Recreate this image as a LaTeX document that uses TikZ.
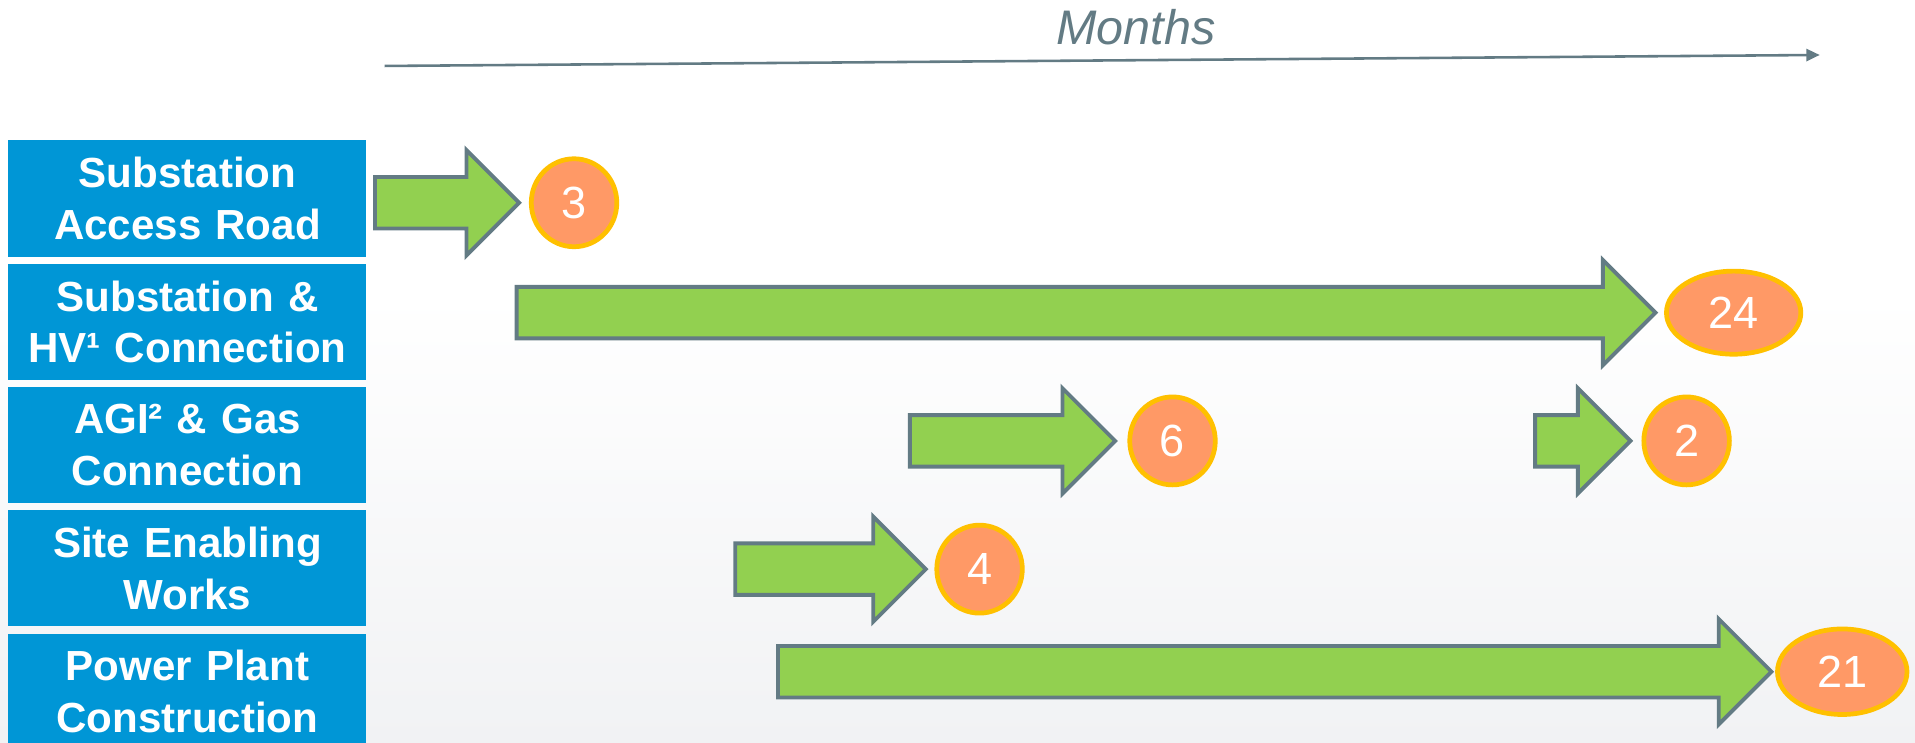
\documentclass[tikz,border=0pt]{standalone}
\usepackage{fontspec}
\setmainfont{Liberation Sans}
\usetikzlibrary{positioning,shapes.arrows,shapes.geometric,arrows.meta}
\definecolor{taskblue}{HTML}{0096D6}
\definecolor{bargreen}{HTML}{92D050}
\definecolor{slategray}{HTML}{637B84}
\definecolor{durorange}{HTML}{FF9966}
\definecolor{durgold}{HTML}{FFC000}
\definecolor{bggray}{HTML}{F1F2F4}
\begin{document}
\begin{tikzpicture}[x=0.01cm, y=-0.01cm, node distance = 0.045cm]
        \tikzset{TaskStyle/.style = {fill = taskblue,
            text  = white,
            font  = \fontsize{9.8}{12}\selectfont\bfseries,
            text width = 2.93cm, minimum height = 0.95cm,
            align = center, inner sep = 0pt}}
        \tikzset{BarStyle/.style = {single arrow, draw = slategray,
            fill  = bargreen, line width = 0.9pt,
            minimum width = 0.83cm, single arrow head extend = 0.22cm,
            inner xsep = 0pt, inner ysep = 0.195cm, outer sep = 0pt, anchor = tail}}
        \tikzset{DurStyle/.style = {ellipse, draw = durgold,
            fill  = durorange, line width = 1.1pt,
            text  = white, font = \fontsize{10.5}{12}\selectfont,
            minimum width = 0.7cm, minimum height = 0.72cm, inner sep = 0pt}}
        \useasboundingbox (0,0) rectangle (1568,608);
        \fill[top color = white, bottom color = bggray] (0,240) rectangle (1568,608);
        \coordinate (T0) at (315,54);
        \coordinate (T1) at (1490,45);
        \draw[slategray, line width = 0.6pt, -{Triangle[length=0.11cm, width=0.1cm]}] (T0) -- (T1);
        \node[text = slategray, font = \fontsize{11.3}{13}\selectfont\itshape] (MTH) at (930,22) {Months};
        \node[TaskStyle] (SAR) at (153.5,162.5) {Substation\\Access Road};
        \node[TaskStyle, below = of SAR] (SHV) {Substation \&\\HV¹ Connection};
        \node[TaskStyle, below = of SHV] (AGI) {AGI² \& Gas\\Connection};
        \node[TaskStyle, below = of AGI] (SEW) {Site Enabling\\Works};
        \node[TaskStyle, below = of SEW] (PPC) {Power Plant\\Construction};
        \node[BarStyle, minimum height = 1.18cm] (BSAR) at (307,166) {};
        \node[BarStyle, minimum height = 9.32cm] (BSHV) at (423,256) {};
        \node[BarStyle, minimum height = 1.68cm] (BAGIa) at (745,361) {};
        \node[BarStyle, minimum height = 0.78cm] (BAGIb) at (1257,361) {};
        \node[BarStyle, minimum height = 1.56cm] (BSEW) at (602,466) {};
        \node[BarStyle, minimum height = 8.13cm] (BPPC) at (637,550) {};
        \node[DurStyle, right = 0.08cm of BSAR.tip] (DSAR) {3};
        \node[DurStyle, right = 0.07cm of BSHV.tip, minimum width = 1.1cm, minimum height = 0.68cm] (DSHV) {24};
        \node[DurStyle, right = 0.1cm of BAGIa.tip] (DAGIa) {6};
        \node[DurStyle, right = 0.09cm of BAGIb.tip] (DAGIb) {2};
        \node[DurStyle, right = 0.07cm of BSEW.tip] (DSEW) {4};
        \node[DurStyle, right = 0.03cm of BPPC.tip, minimum width = 1.06cm, minimum height = 0.7cm] (DPPC) {21};
      \end{tikzpicture}
\end{document}
